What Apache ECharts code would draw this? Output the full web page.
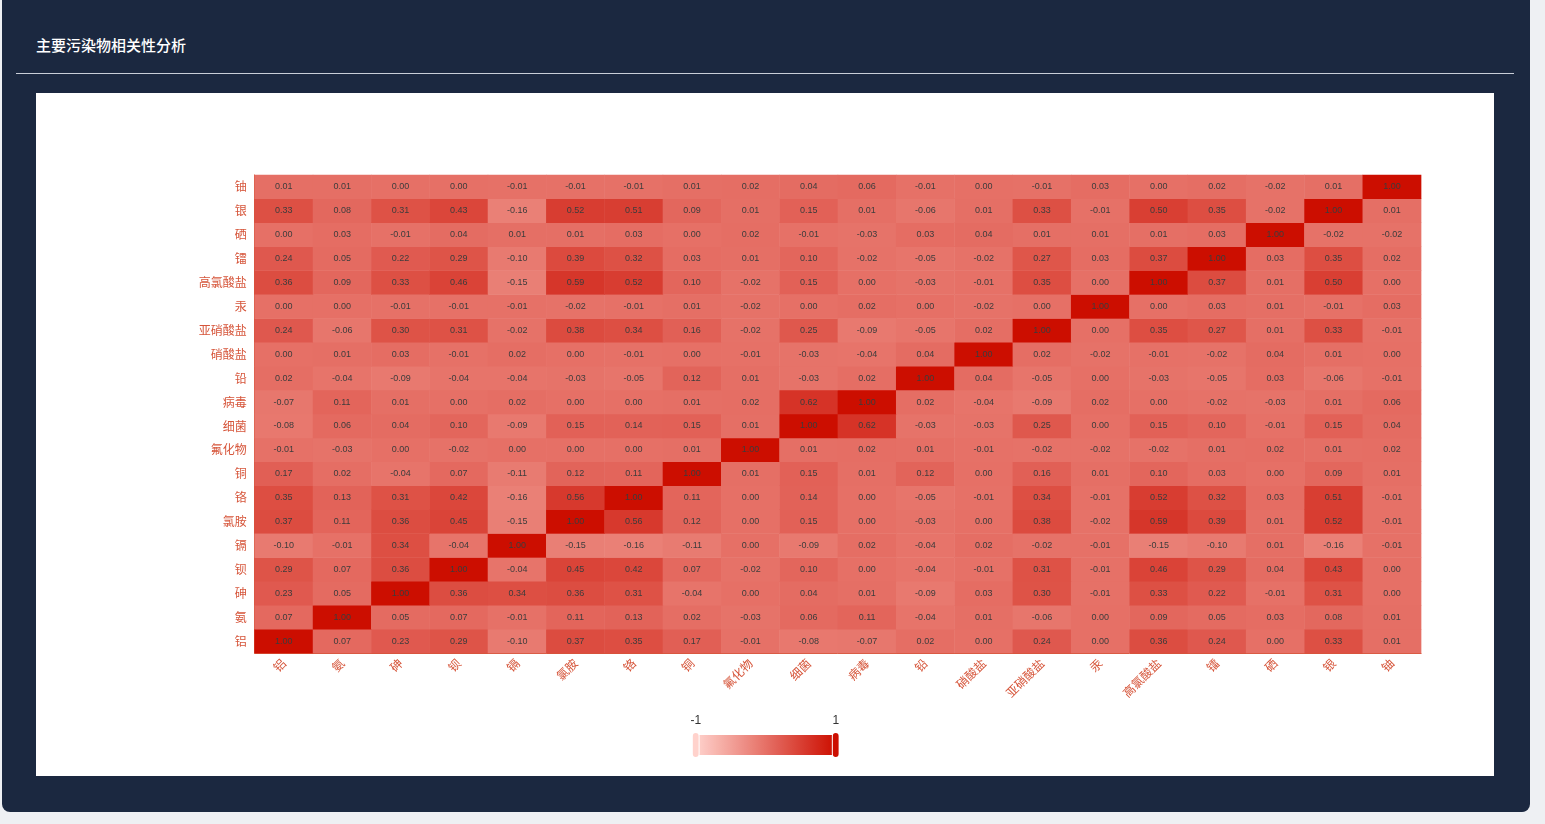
<!DOCTYPE html>
<html>
<head>
<meta charset="utf-8">
<script src="https://cdn.jsdelivr.net/npm/echarts@6/dist/echarts.min.js"></script>
<style>
  html, body { margin: 0; padding: 0; width: 1545px; height: 824px; overflow: hidden; background: #eef0f3; font-family: "Noto Sans CJK SC", "Noto Sans", sans-serif; }
  #panel { position: absolute; left: 2px; top: -8px; width: 1528px; height: 820px; background: #1b2840; border-radius: 8px; }
  #title { position: absolute; left: 36px; top: 35px; color: #ffffff; font-size: 15px; font-weight: 500; line-height: 20px; font-family: "Noto Sans CJK SC", sans-serif; }
  #rule { position: absolute; left: 16px; top: 73px; width: 1498px; height: 1px; background: #c9ced8; }
  #chart { position: absolute; left: 36px; top: 93px; width: 1458px; height: 683px; background: #ffffff; }
</style>
</head>
<body>
<div id="panel"></div>
<div id="title">主要污染物相关性分析</div>
<div id="rule"></div>
<div id="chart"></div>
<script>
// Categories (x axis left→right, y axis bottom→top)
const pollutants = ['铝', '氨', '砷', '钡', '镉', '氯胺', '铬', '铜', '氟化物', '细菌', '病毒', '铅', '硝酸盐', '亚硝酸盐', '汞', '高氯酸盐', '镭', '硒', '银', '铀'];

// Correlation rows, one per y category (bottom row first), values per x category
const row_铝 = [1.00, 0.07, 0.23, 0.29, -0.10, 0.37, 0.35, 0.17, -0.01, -0.08, -0.07, 0.02, 0.00, 0.24, 0.00, 0.36, 0.24, 0.00, 0.33, 0.01];
const row_氨 = [0.07, 1.00, 0.05, 0.07, -0.01, 0.11, 0.13, 0.02, -0.03, 0.06, 0.11, -0.04, 0.01, -0.06, 0.00, 0.09, 0.05, 0.03, 0.08, 0.01];
const row_砷 = [0.23, 0.05, 1.00, 0.36, 0.34, 0.36, 0.31, -0.04, 0.00, 0.04, 0.01, -0.09, 0.03, 0.30, -0.01, 0.33, 0.22, -0.01, 0.31, 0.00];
const row_钡 = [0.29, 0.07, 0.36, 1.00, -0.04, 0.45, 0.42, 0.07, -0.02, 0.10, 0.00, -0.04, -0.01, 0.31, -0.01, 0.46, 0.29, 0.04, 0.43, 0.00];
const row_镉 = [-0.10, -0.01, 0.34, -0.04, 1.00, -0.15, -0.16, -0.11, 0.00, -0.09, 0.02, -0.04, 0.02, -0.02, -0.01, -0.15, -0.10, 0.01, -0.16, -0.01];
const row_氯胺 = [0.37, 0.11, 0.36, 0.45, -0.15, 1.00, 0.56, 0.12, 0.00, 0.15, 0.00, -0.03, 0.00, 0.38, -0.02, 0.59, 0.39, 0.01, 0.52, -0.01];
const row_铬 = [0.35, 0.13, 0.31, 0.42, -0.16, 0.56, 1.00, 0.11, 0.00, 0.14, 0.00, -0.05, -0.01, 0.34, -0.01, 0.52, 0.32, 0.03, 0.51, -0.01];
const row_铜 = [0.17, 0.02, -0.04, 0.07, -0.11, 0.12, 0.11, 1.00, 0.01, 0.15, 0.01, 0.12, 0.00, 0.16, 0.01, 0.10, 0.03, 0.00, 0.09, 0.01];
const row_氟化物 = [-0.01, -0.03, 0.00, -0.02, 0.00, 0.00, 0.00, 0.01, 1.00, 0.01, 0.02, 0.01, -0.01, -0.02, -0.02, -0.02, 0.01, 0.02, 0.01, 0.02];
const row_细菌 = [-0.08, 0.06, 0.04, 0.10, -0.09, 0.15, 0.14, 0.15, 0.01, 1.00, 0.62, -0.03, -0.03, 0.25, 0.00, 0.15, 0.10, -0.01, 0.15, 0.04];
const row_病毒 = [-0.07, 0.11, 0.01, 0.00, 0.02, 0.00, 0.00, 0.01, 0.02, 0.62, 1.00, 0.02, -0.04, -0.09, 0.02, 0.00, -0.02, -0.03, 0.01, 0.06];
const row_铅 = [0.02, -0.04, -0.09, -0.04, -0.04, -0.03, -0.05, 0.12, 0.01, -0.03, 0.02, 1.00, 0.04, -0.05, 0.00, -0.03, -0.05, 0.03, -0.06, -0.01];
const row_硝酸盐 = [0.00, 0.01, 0.03, -0.01, 0.02, 0.00, -0.01, 0.00, -0.01, -0.03, -0.04, 0.04, 1.00, 0.02, -0.02, -0.01, -0.02, 0.04, 0.01, 0.00];
const row_亚硝酸盐 = [0.24, -0.06, 0.30, 0.31, -0.02, 0.38, 0.34, 0.16, -0.02, 0.25, -0.09, -0.05, 0.02, 1.00, 0.00, 0.35, 0.27, 0.01, 0.33, -0.01];
const row_汞 = [0.00, 0.00, -0.01, -0.01, -0.01, -0.02, -0.01, 0.01, -0.02, 0.00, 0.02, 0.00, -0.02, 0.00, 1.00, 0.00, 0.03, 0.01, -0.01, 0.03];
const row_高氯酸盐 = [0.36, 0.09, 0.33, 0.46, -0.15, 0.59, 0.52, 0.10, -0.02, 0.15, 0.00, -0.03, -0.01, 0.35, 0.00, 1.00, 0.37, 0.01, 0.50, 0.00];
const row_镭 = [0.24, 0.05, 0.22, 0.29, -0.10, 0.39, 0.32, 0.03, 0.01, 0.10, -0.02, -0.05, -0.02, 0.27, 0.03, 0.37, 1.00, 0.03, 0.35, 0.02];
const row_硒 = [0.00, 0.03, -0.01, 0.04, 0.01, 0.01, 0.03, 0.00, 0.02, -0.01, -0.03, 0.03, 0.04, 0.01, 0.01, 0.01, 0.03, 1.00, -0.02, -0.02];
const row_银 = [0.33, 0.08, 0.31, 0.43, -0.16, 0.52, 0.51, 0.09, 0.01, 0.15, 0.01, -0.06, 0.01, 0.33, -0.01, 0.50, 0.35, -0.02, 1.00, 0.01];
const row_铀 = [0.01, 0.01, 0.00, 0.00, -0.01, -0.01, -0.01, 0.01, 0.02, 0.04, 0.06, -0.01, 0.00, -0.01, 0.03, 0.00, 0.02, -0.02, 0.01, 1.00];

const corrRows = [row_铝, row_氨, row_砷, row_钡, row_镉, row_氯胺, row_铬, row_铜, row_氟化物, row_细菌,
                  row_病毒, row_铅, row_硝酸盐, row_亚硝酸盐, row_汞, row_高氯酸盐, row_镭, row_硒, row_银, row_铀];

const heatData = [];
corrRows.forEach(function (row, yi) {
  row.forEach(function (v, xi) { heatData.push([xi, yi, v]); });
});

const axisRed = '#d6553a';
const chart = echarts.init(document.getElementById('chart'), null, { renderer: 'canvas' });
chart.setOption({
  backgroundColor: '#ffffff',
  animation: false,
  grid: { left: '15%', right: '5%', top: '12%', height: '70%' },
  xAxis: {
    type: 'category',
    data: pollutants,
    axisLine: { lineStyle: { color: axisRed } },
    axisTick: { lineStyle: { color: axisRed } },
    axisLabel: { color: axisRed, fontSize: 12, rotate: 45, interval: 0, margin: 8, fontFamily: 'Noto Sans CJK SC' },
    splitArea: { show: false }
  },
  yAxis: {
    type: 'category',
    data: pollutants,
    axisLine: { lineStyle: { color: axisRed } },
    axisTick: { lineStyle: { color: axisRed } },
    axisLabel: { color: axisRed, fontSize: 12, interval: 0, margin: 8, fontFamily: 'Noto Sans CJK SC' },
    splitArea: { show: false }
  },
  visualMap: {
    type: 'continuous',
    min: -1,
    max: 1,
    calculable: true,
    orient: 'horizontal',
    left: 'center',
    bottom: 3,
    itemWidth: 20,
    itemHeight: 140,
    textStyle: { color: '#333', fontSize: 12 },
    inRange: { color: ['#ffd2cc', '#cc0e00'] }
  },
  series: [{
    type: 'heatmap',
    data: heatData,
    label: {
      show: true,
      fontSize: 9,
      color: '#3c3c3c',
      formatter: function (p) { return p.value[2].toFixed(2); }
    },
    itemStyle: { borderWidth: 0 }
  }]
});
</script>
</body>
</html>
